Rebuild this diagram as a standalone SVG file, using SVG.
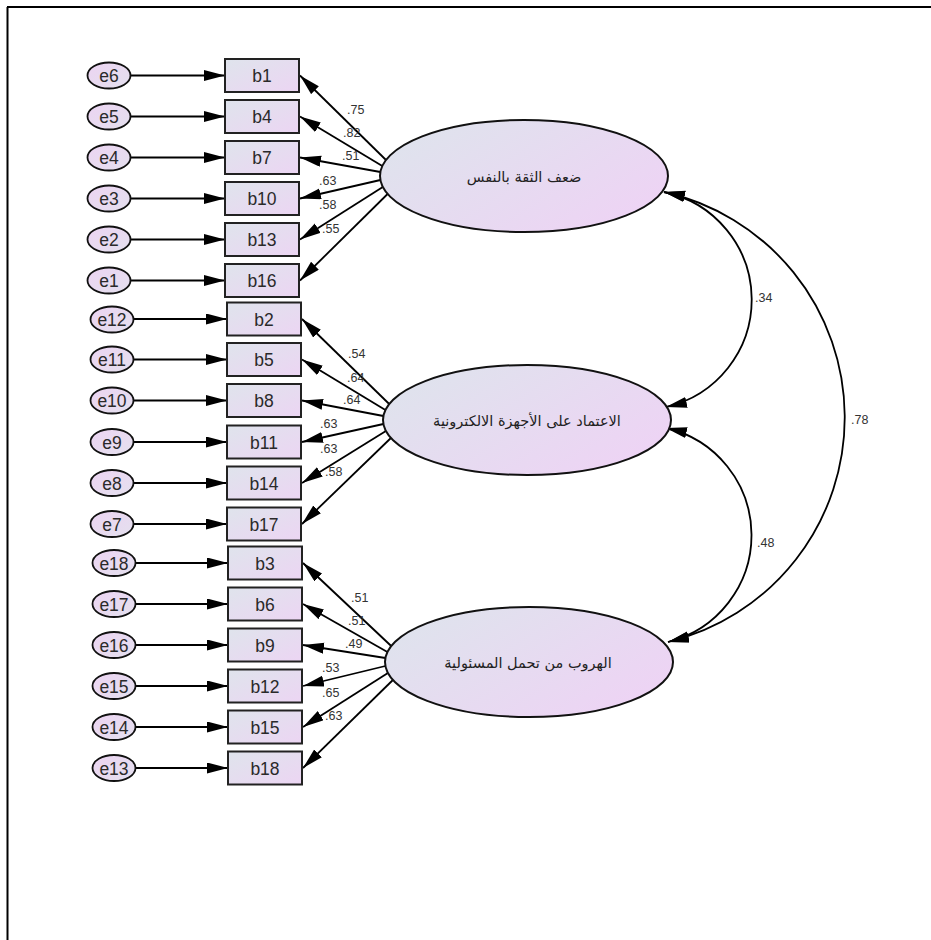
<svg xmlns="http://www.w3.org/2000/svg" width="931" height="940" viewBox="0 0 931 940">
<defs>
<linearGradient id="gBox" x1="0" y1="0" x2="1" y2="1"><stop offset="0" stop-color="#dfe4ec"/><stop offset="1" stop-color="#ecd5f3"/></linearGradient>
<linearGradient id="gErr" x1="0" y1="0" x2="1" y2="1"><stop offset="0" stop-color="#ecd4f2"/><stop offset="1" stop-color="#e4e0ee"/></linearGradient>
<linearGradient id="gLat" x1="0" y1="0" x2="1" y2="0.6"><stop offset="0" stop-color="#dde5ec"/><stop offset="1" stop-color="#edd4f4"/></linearGradient>
<marker id="ah" markerUnits="userSpaceOnUse" markerWidth="24" markerHeight="12" refX="21" refY="5.5" orient="auto-start-reverse"><path d="M0,0 L21,5.5 L0,11 Z" fill="#000"/></marker>
<style>
.box{fill:url(#gBox);stroke:#222;stroke-width:2}
.err{fill:url(#gErr);stroke:#111;stroke-width:1.8}
.lat{fill:url(#gLat);stroke:#111;stroke-width:2}
.t{font-family:"Liberation Sans",Arial,sans-serif;font-size:17.5px;fill:#2a2a2a;text-anchor:middle}
.ar{font-family:"DejaVu Sans","Noto Sans",sans-serif;font-size:14.5px;fill:#222;text-anchor:middle}
.n{font-family:"Liberation Sans",Arial,sans-serif;font-size:12.5px;fill:#333}
.c line,.c path{stroke:#000;stroke-width:1.8;fill:none;marker-end:url(#ah)}
.c path{marker-start:url(#ah)}
</style>
</defs>
<rect x="0" y="0" width="931" height="940" fill="#fff"/>
<path d="M7,7 H931 M7.5,7 V940" stroke="#000" stroke-width="2" fill="none"/>

<g id="connectors" class="c">
<line x1="130.5" y1="75.5" x2="225" y2="75.5"/>
<line x1="130.5" y1="116.5" x2="225" y2="116.5"/>
<line x1="130.5" y1="157.5" x2="225" y2="157.5"/>
<line x1="130.5" y1="198.5" x2="225" y2="198.5"/>
<line x1="130.5" y1="239.5" x2="225" y2="239.5"/>
<line x1="130.5" y1="280.5" x2="225" y2="280.5"/>
<line x1="133.5" y1="319" x2="227" y2="319"/>
<line x1="133.5" y1="359.5" x2="227" y2="359.5"/>
<line x1="133.5" y1="400.5" x2="227" y2="400.5"/>
<line x1="133.5" y1="442" x2="227" y2="442"/>
<line x1="133.5" y1="483" x2="227" y2="483"/>
<line x1="133.5" y1="524" x2="227" y2="524"/>
<line x1="135.5" y1="563" x2="228" y2="563"/>
<line x1="135.5" y1="604" x2="228" y2="604"/>
<line x1="135.5" y1="645" x2="228" y2="645"/>
<line x1="135.5" y1="686" x2="228" y2="686"/>
<line x1="135.5" y1="727" x2="228" y2="727"/>
<line x1="135.5" y1="768" x2="228" y2="768"/>

<line x1="386" y1="160" x2="300" y2="75.5"/>
<line x1="382.3" y1="166" x2="300" y2="116.5"/>
<line x1="380.4" y1="172" x2="300" y2="157.5"/>
<line x1="380.4" y1="180" x2="300" y2="198.5"/>
<line x1="382.8" y1="187" x2="300" y2="239.5"/>
<line x1="387.6" y1="194" x2="300" y2="280.5"/>

<line x1="389.2" y1="404" x2="302" y2="319"/>
<line x1="385.4" y1="410" x2="302" y2="359.5"/>
<line x1="383.4" y1="416" x2="302" y2="400.5"/>
<line x1="383.4" y1="424" x2="302" y2="442"/>
<line x1="385.9" y1="431" x2="302" y2="483"/>
<line x1="390.9" y1="438" x2="302" y2="524"/>

<line x1="391.2" y1="646" x2="303" y2="563"/>
<line x1="387.4" y1="652" x2="303" y2="604"/>
<line x1="385.4" y1="658" x2="303" y2="645"/>
<line x1="385.4" y1="666" x2="303" y2="686"/>
<line x1="387.9" y1="673" x2="303" y2="727"/>
<line x1="392.9" y1="680" x2="303" y2="768"/>

<path d="M664,192 A110,110 0 0 1 666,407"/>
<path d="M664,192 A231,231 0 0 1 668,642"/>
<path d="M666,428 A110,110 0 0 1 668,642"/>
</g>

<g id="labels">
<text class="n" x="347" y="114">.75</text>
<text class="n" x="343" y="137">.82</text>
<text class="n" x="342" y="160">.51</text>
<text class="n" x="319" y="185">.63</text>
<text class="n" x="319" y="209">.58</text>
<text class="n" x="322" y="233">.55</text>
<text class="n" x="348" y="358">.54</text>
<text class="n" x="347" y="382">.64</text>
<text class="n" x="343" y="404">.64</text>
<text class="n" x="320" y="428">.63</text>
<text class="n" x="320" y="453">.63</text>
<text class="n" x="325" y="476">.58</text>
<text class="n" x="351" y="602">.51</text>
<text class="n" x="348" y="625">.51</text>
<text class="n" x="345" y="648">.49</text>
<text class="n" x="322" y="672">.53</text>
<text class="n" x="322" y="697">.65</text>
<text class="n" x="325" y="720">.63</text>
<text class="n" x="755" y="302">.34</text>
<text class="n" x="851" y="424">.78</text>
<text class="n" x="757" y="547">.48</text>
</g>

<g id="F1"><ellipse class="lat" cx="524" cy="176" rx="144" ry="56"/><text class="ar" x="524" y="182">ضعف الثقة بالنفس</text></g>
<g id="F2"><ellipse class="lat" cx="527" cy="420" rx="144" ry="55"/><text class="ar" x="527" y="426">الاعتماد على الأجهزة الالكترونية</text></g>
<g id="F3"><ellipse class="lat" cx="529" cy="662" rx="144" ry="55"/><text class="ar" x="528" y="668">الهروب من تحمل المسئولية</text></g>

<g id="b1"><rect class="box" x="225" y="59" width="74" height="33"/><text class="t" x="262" y="82">b1</text></g>
<g id="b4"><rect class="box" x="225" y="100" width="74" height="33"/><text class="t" x="262" y="123">b4</text></g>
<g id="b7"><rect class="box" x="225" y="141" width="74" height="33"/><text class="t" x="262" y="164">b7</text></g>
<g id="b10"><rect class="box" x="225" y="182" width="74" height="33"/><text class="t" x="262" y="205">b10</text></g>
<g id="b13"><rect class="box" x="225" y="223" width="74" height="33"/><text class="t" x="262" y="246">b13</text></g>
<g id="b16"><rect class="box" x="225" y="264" width="74" height="33"/><text class="t" x="262" y="287">b16</text></g>
<g id="b2"><rect class="box" x="227" y="302.5" width="74" height="33"/><text class="t" x="264" y="325.5">b2</text></g>
<g id="b5"><rect class="box" x="227" y="343" width="74" height="33"/><text class="t" x="264" y="366">b5</text></g>
<g id="b8"><rect class="box" x="227" y="384" width="74" height="33"/><text class="t" x="264" y="407">b8</text></g>
<g id="b11"><rect class="box" x="227" y="425.5" width="74" height="33"/><text class="t" x="264" y="448.5">b11</text></g>
<g id="b14"><rect class="box" x="227" y="466.5" width="74" height="33"/><text class="t" x="264" y="489.5">b14</text></g>
<g id="b17"><rect class="box" x="227" y="507.5" width="74" height="33"/><text class="t" x="264" y="530.5">b17</text></g>
<g id="b3"><rect class="box" x="228" y="546.5" width="74" height="33"/><text class="t" x="265" y="569.5">b3</text></g>
<g id="b6"><rect class="box" x="228" y="587.5" width="74" height="33"/><text class="t" x="265" y="610.5">b6</text></g>
<g id="b9"><rect class="box" x="228" y="628.5" width="74" height="33"/><text class="t" x="265" y="651.5">b9</text></g>
<g id="b12"><rect class="box" x="228" y="669.5" width="74" height="33"/><text class="t" x="265" y="692.5">b12</text></g>
<g id="b15"><rect class="box" x="228" y="710.5" width="74" height="33"/><text class="t" x="265" y="733.5">b15</text></g>
<g id="b18"><rect class="box" x="228" y="751.5" width="74" height="33"/><text class="t" x="265" y="774.5">b18</text></g>

<g id="e6"><ellipse class="err" cx="109" cy="75.5" rx="21.5" ry="13"/><text class="t" x="109" y="82">e6</text></g>
<g id="e5"><ellipse class="err" cx="109" cy="116.5" rx="21.5" ry="13"/><text class="t" x="109" y="123">e5</text></g>
<g id="e4"><ellipse class="err" cx="109" cy="157.5" rx="21.5" ry="13"/><text class="t" x="109" y="164">e4</text></g>
<g id="e3"><ellipse class="err" cx="109" cy="198.5" rx="21.5" ry="13"/><text class="t" x="109" y="205">e3</text></g>
<g id="e2"><ellipse class="err" cx="109" cy="239.5" rx="21.5" ry="13"/><text class="t" x="109" y="246">e2</text></g>
<g id="e1"><ellipse class="err" cx="109" cy="280.5" rx="21.5" ry="13"/><text class="t" x="109" y="287">e1</text></g>
<g id="e12"><ellipse class="err" cx="112" cy="319.5" rx="21.5" ry="13"/><text class="t" x="112" y="325.5">e12</text></g>
<g id="e11"><ellipse class="err" cx="112" cy="359.5" rx="21.5" ry="13"/><text class="t" x="112" y="366">e11</text></g>
<g id="e10"><ellipse class="err" cx="112" cy="400.5" rx="21.5" ry="13"/><text class="t" x="112" y="407">e10</text></g>
<g id="e9"><ellipse class="err" cx="112" cy="442" rx="21.5" ry="13"/><text class="t" x="112" y="448.5">e9</text></g>
<g id="e8"><ellipse class="err" cx="112" cy="483" rx="21.5" ry="13"/><text class="t" x="112" y="489.5">e8</text></g>
<g id="e7"><ellipse class="err" cx="112" cy="524" rx="21.5" ry="13"/><text class="t" x="112" y="530.5">e7</text></g>
<g id="e18"><ellipse class="err" cx="114" cy="563" rx="21.5" ry="13"/><text class="t" x="114" y="569.5">e18</text></g>
<g id="e17"><ellipse class="err" cx="114" cy="604" rx="21.5" ry="13"/><text class="t" x="114" y="610.5">e17</text></g>
<g id="e16"><ellipse class="err" cx="114" cy="645" rx="21.5" ry="13"/><text class="t" x="114" y="651.5">e16</text></g>
<g id="e15"><ellipse class="err" cx="114" cy="686" rx="21.5" ry="13"/><text class="t" x="114" y="692.5">e15</text></g>
<g id="e14"><ellipse class="err" cx="114" cy="727" rx="21.5" ry="13"/><text class="t" x="114" y="733.5">e14</text></g>
<g id="e13"><ellipse class="err" cx="114" cy="768" rx="21.5" ry="13"/><text class="t" x="114" y="774.5">e13</text></g>
</svg>
